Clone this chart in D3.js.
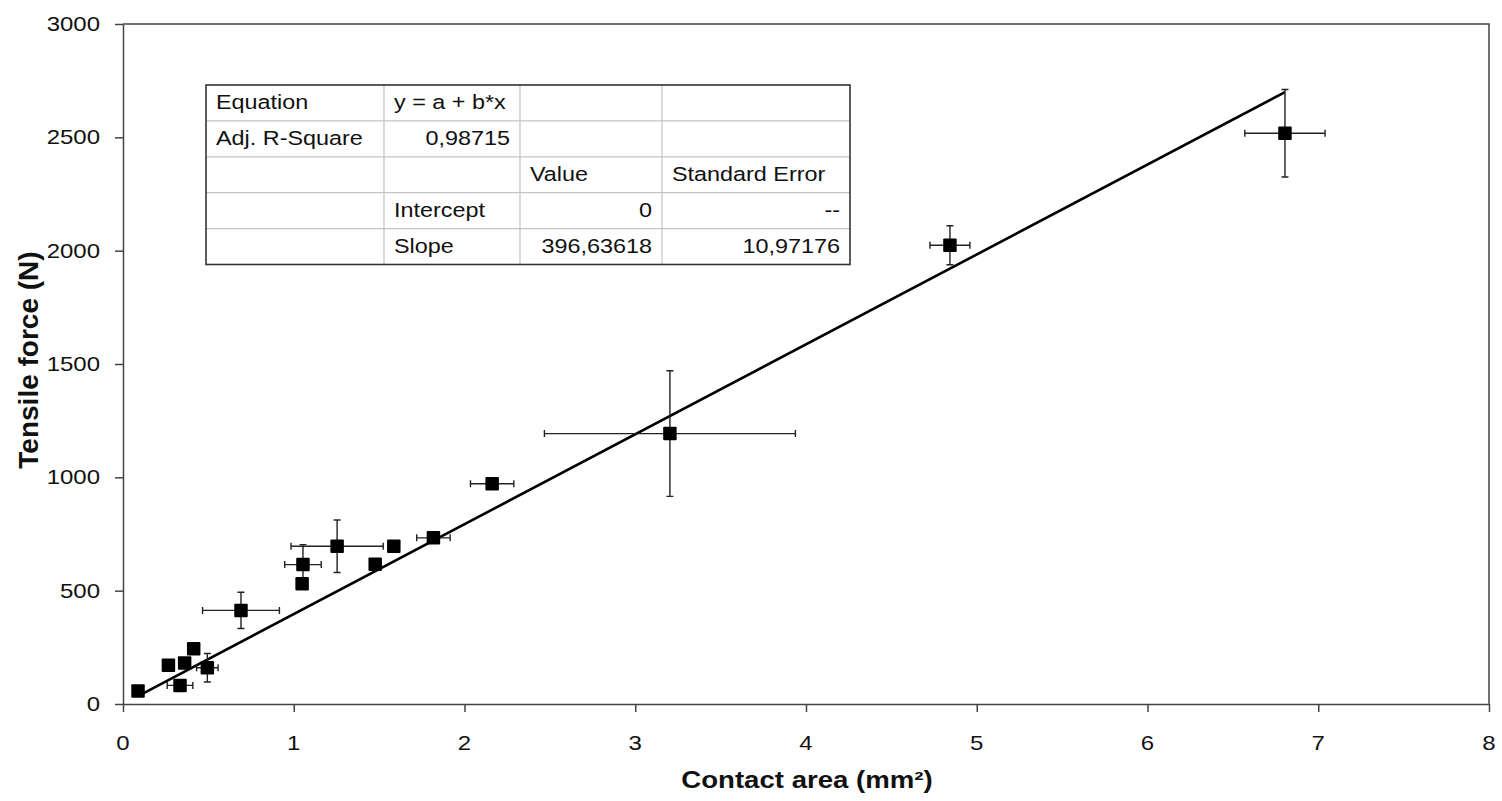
<!DOCTYPE html>
<html>
<head>
<meta charset="utf-8">
<script src="https://cdn.jsdelivr.net/npm/d3@7"></script>
<style>
  body { margin: 0; background: #fff; }
  svg { display: block; font-family: "Liberation Sans", Arial, sans-serif; }
</style>
</head>
<body>
<div id="container"></div>
<script>
// measured points: contact area (mm²), tensile force (N), and their errors (0 = no bar)
const contactArea = [0.088, 0.266, 0.334, 0.361, 0.414, 0.494, 0.691, 1.049, 1.054, 1.254, 1.477, 1.586, 1.818, 2.162, 3.203, 4.843, 6.805];
const tensileForce = [57, 171, 82, 181, 244, 160, 413, 531, 615, 696, 616, 696, 733, 972, 1193, 2024, 2518];
const areaError = [0, 0, 0.075, 0, 0, 0.063, 0.225, 0, 0.107, 0.27, 0, 0, 0.098, 0.127, 0.735, 0.117, 0.235];
const forceError = [0, 0, 0, 0, 0, 63, 80, 0, 88, 116, 0, 0, 0, 0, 277, 86, 193];

const xTicks = [0, 1, 2, 3, 4, 5, 6, 7, 8];
const yTicks = [0, 500, 1000, 1500, 2000, 2500, 3000];

// fit table (as printed in the figure)
const tableRows = [
  ["Equation", "y = a + b*x", "", ""],
  ["Adj. R-Square", "0,98715", "", ""],
  ["", "", "Value", "Standard Error"],
  ["", "Intercept", "0", "--"],
  ["", "Slope", "396,63618", "10,97176"]
];
const fitIntercept = 0;
const fitSlope = 396.63618;

const W = 1502, H = 801;
const stretch = 1.2; // the figure's text is drawn a bit wide

const svg = d3.select("#container").append("svg")
  .attr("width", W).attr("height", H);
svg.append("rect").attr("width", W).attr("height", H).attr("fill", "#fff");

const x = d3.scaleLinear().domain([0, 8]).range([123, 1489]);
const y = d3.scaleLinear().domain([0, 3000]).range([704, 24]);

function label(g, px, py, str, anchor, size, weight) {
  return g.append("text")
    .attr("transform", `translate(${px},${py}) scale(${stretch},1)`)
    .attr("text-anchor", anchor)
    .attr("font-size", size)
    .attr("font-weight", weight || "normal")
    .attr("fill", "#111")
    .text(str);
}

// frame (top + right)
svg.append("path")
  .attr("d", `M${x(0)},${y(3000)}H${x(8)}V${y(0)}`)
  .attr("fill", "none").attr("stroke", "#444").attr("stroke-width", 1.5);

// axes
const xAxis = svg.append("g")
  .attr("transform", `translate(0,${y(0)})`)
  .call(d3.axisBottom(x).tickValues(xTicks).tickSize(8).tickSizeOuter(0).tickFormat(""));
const yAxis = svg.append("g")
  .attr("transform", `translate(${x(0)},0)`)
  .call(d3.axisLeft(y).tickValues(yTicks).tickSize(8).tickSizeOuter(0).tickFormat(""));
[xAxis, yAxis].forEach(a => {
  a.select(".domain").attr("stroke", "#444").attr("stroke-width", 1.5);
  a.selectAll(".tick line").attr("stroke", "#444").attr("stroke-width", 1.5);
});

xTicks.forEach(t => label(svg, x(t), 750, String(t), "middle", 20));
yTicks.forEach(t => label(svg, 100, y(t) + 7, String(t), "end", 20));

// axis titles
label(svg, 807, 788, "Contact area (mm²)", "middle", 23, "bold");
svg.append("text")
  .attr("transform", "translate(38,360) rotate(-90)")
  .attr("text-anchor", "middle")
  .attr("font-size", 28)
  .attr("font-weight", "bold")
  .attr("fill", "#111")
  .text("Tensile force (N)");

// fit line over the data range
const xExt = d3.extent(contactArea);
svg.append("line")
  .attr("x1", x(xExt[0])).attr("y1", y(fitIntercept + fitSlope * xExt[0]))
  .attr("x2", x(xExt[1])).attr("y2", y(fitIntercept + fitSlope * xExt[1]))
  .attr("stroke", "#000").attr("stroke-width", 2.6);

// error bars
const pts = contactArea.map((a, i) => ({ a, f: tensileForce[i], ea: areaError[i], ef: forceError[i] }));
const cap = 3.5;
const bars = svg.append("g").attr("stroke", "#222").attr("stroke-width", 1.4).attr("fill", "none");
pts.forEach(d => {
  if (d.ea > 0) {
    const x0 = x(d.a - d.ea), x1 = x(d.a + d.ea), cy = y(d.f);
    bars.append("path").attr("d", `M${x0},${cy}H${x1}M${x0},${cy - cap}V${cy + cap}M${x1},${cy - cap}V${cy + cap}`);
  }
  if (d.ef > 0) {
    const y0 = y(d.f - d.ef), y1 = y(d.f + d.ef), cx = x(d.a);
    bars.append("path").attr("d", `M${cx},${y0}V${y1}M${cx - cap},${y0}H${cx + cap}M${cx - cap},${y1}H${cx + cap}`);
  }
});

// square markers
const sq = 13.5;
svg.append("g").selectAll("rect").data(pts).join("rect")
  .attr("x", d => x(d.a) - sq / 2)
  .attr("y", d => y(d.f) - sq / 2)
  .attr("width", sq).attr("height", sq)
  .attr("rx", 1)
  .attr("fill", "#000");

// statistics table
const colX = [206, 384, 520, 662, 850];
const rowY = d3.range(tableRows.length + 1).map(i => 85 + i * 35.9);
const tbl = svg.append("g");
tbl.append("rect")
  .attr("x", colX[0]).attr("y", rowY[0])
  .attr("width", colX[4] - colX[0]).attr("height", rowY[5] - rowY[0])
  .attr("fill", "#fff");
rowY.slice(1, -1).forEach(ry => tbl.append("line")
  .attr("x1", colX[0]).attr("x2", colX[4]).attr("y1", ry).attr("y2", ry)
  .attr("stroke", "#c4c4c4").attr("stroke-width", 1.2));
colX.slice(1, -1).forEach(cx => tbl.append("line")
  .attr("x1", cx).attr("x2", cx).attr("y1", rowY[0]).attr("y2", rowY[5])
  .attr("stroke", "#c4c4c4").attr("stroke-width", 1.2));
tbl.append("rect")
  .attr("x", colX[0]).attr("y", rowY[0])
  .attr("width", colX[4] - colX[0]).attr("height", rowY[5] - rowY[0])
  .attr("fill", "none").attr("stroke", "#333").attr("stroke-width", 1.6);

const numeric = s => /^[\d,\-]+$/.test(s);
tableRows.forEach((row, r) => {
  row.forEach((cell, c) => {
    if (!cell) return;
    const right = numeric(cell) && c > 0;
    const px = right ? colX[c + 1] - 10 : colX[c] + 10;
    label(tbl, px, rowY[r] + 24, cell, right ? "end" : "start", 19.5);
  });
});
</script>
</body>
</html>
